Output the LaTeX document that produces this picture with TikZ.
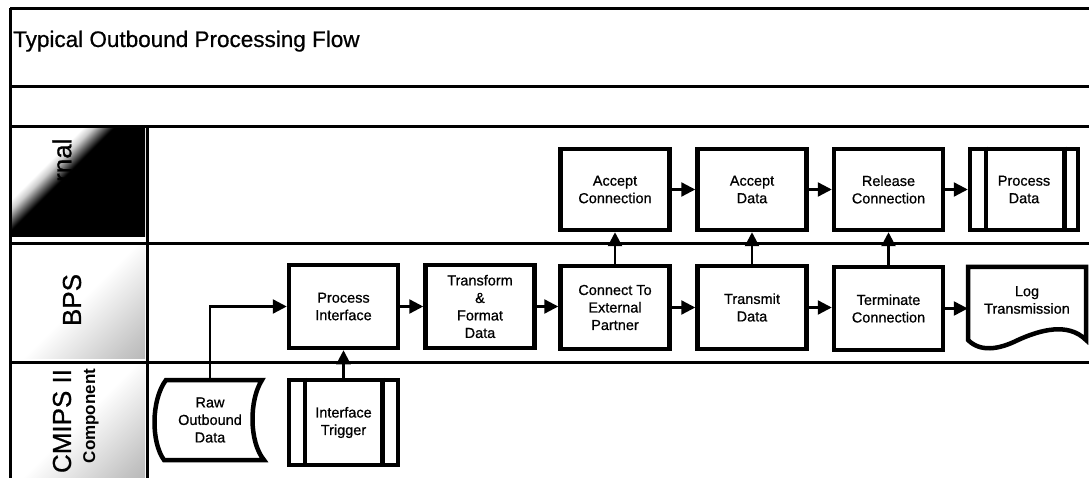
\documentclass[tikz,border=0pt]{standalone}
\usepackage{fontspec}
\setmainfont{Liberation Sans}
\newfontfamily\heavyfont[FakeBold=0.7]{Liberation Sans}
\usetikzlibrary{arrows.meta}
\pgfdeclarehorizontalshading{extshade}{100bp}{color(0bp)=(white); color(35bp)=(white); color(38bp)=(gray!40); color(44bp)=(black); color(100bp)=(black)}
\pgfdeclarehorizontalshading{lightshade}{100bp}{color(0bp)=(white); color(50bp)=(white); color(78bp)=(gray!45); color(100bp)=(gray!75)}
\begin{document}
\begin{tikzpicture}[x=1pt,y=-1pt,
  frame/.style={line width=3pt},
  boxtext/.style={align=center, font=\heavyfont\fontsize{14.5}{17.5}\selectfont},
  box/.style={boxtext, draw, line width=4.5pt, minimum width=109pt, minimum height=83pt, inner sep=2pt},
  plainbox/.style={boxtext, minimum width=110pt, minimum height=80pt, inner sep=2pt},
  shapeline/.style={line width=4.5pt},
  conn/.style={line width=2.4pt, -{Triangle[length=14pt,width=14pt]}},
  lanelabel/.style={rotate=90, font=\heavyfont\fontsize{26}{28}\selectfont},
]
\useasboundingbox (0,0) rectangle (1089,478);
% lane headers
\shade[shading=extshade, shading angle=-45] (12,129) rectangle (145,237);
\shade[shading=lightshade, shading angle=-45] (12,246) rectangle (145,358);
\shade[shading=lightshade, shading angle=-45] (12,364) rectangle (145,478);
\begin{scope}
  \clip (12,135) rectangle (145,237);
  \node[lanelabel, anchor=east] (lext) at (62,135) {External};
\end{scope}
\node[lanelabel] (lbps) at (72,300) {BPS};
\node[lanelabel] (lcmips) at (62,421) {CMIPS II};
\node[rotate=90, font=\bfseries\fontsize{17}{18}\selectfont] (lcomp) at (91,416) {Component};
% frame lines
\draw[frame] (10,9) -- (1089,9);
\draw[frame] (10,8) -- (10,478);
\draw[frame] (10,87) -- (1089,87);
\draw[frame] (10,127) -- (1089,127);
\draw[frame] (10,244) -- (1089,244);
\draw[frame] (10,362) -- (1089,362);
\draw[frame] (147,127) -- (147,478);
% title
\node[anchor=base west, font=\heavyfont\fontsize{22.5}{24}\selectfont, inner sep=0] (title) at (13,47) {Typical Outbound Processing Flow};
% External lane
\node[box, minimum height=81pt] (ac) at (615,189.5) {Accept\\Connection};
\node[box, minimum height=81pt] (ad) at (752,189.5) {Accept\\Data};
\node[box, minimum height=81pt] (rc) at (888.5,189.5) {Release\\Connection};
\node[box, minimum height=81pt, minimum width=108pt] (pd) at (1024,189.5) {Process\\Data};
\draw[shapeline] ([xshift=18pt]pd.north west) -- ([xshift=18pt]pd.south west);
\draw[shapeline] ([xshift=-16pt]pd.north east) -- ([xshift=-16pt]pd.south east);
% BPS lane
\node[box] (pi) at (343.5,306.5) {Process\\Interface};
\node[box] (tf) at (480,306.5) {Transform\\\&\\Format\\Data};
\node[box] (ce) at (615,307.5) {Connect To\\External\\Partner};
\node[box] (td) at (752,307.5) {Transmit\\Data};
\node[box] (tc) at (888.5,308.5) {Terminate\\Connection};
\node[plainbox, minimum width=118pt, minimum height=66pt] (log) at (1027,300) {Log\\Transmission};
\draw[shapeline] (968,267) -- (1086,267) -- (1086,340)
  .. controls (1068,322) and (1040,330) .. (1018,340)
  .. controls (998,350) and (980,352) .. (968,340) -- cycle;
% CMIPS lane
\node[plainbox, minimum width=100pt, minimum height=80pt] (raw) at (210,420) {Raw\\Outbound\\Data};
\draw[shapeline] (166,380) -- (262,380) .. controls (249,400) and (249,442) .. (264,460)
  -- (164,460) .. controls (151,442) and (151,400) .. (166,380) -- cycle;
\node[box, minimum width=109pt, minimum height=85pt] (it) at (343.5,422.5) {Interface\\Trigger};
\draw[shapeline] ([xshift=18pt]it.north west) -- ([xshift=18pt]it.south west);
\draw[shapeline] ([xshift=-18pt]it.north east) -- ([xshift=-18pt]it.south east);
% connectors
\draw[conn] (raw.north) |- (pi.west);
\draw[conn] (it.north) -- (pi.south);
\draw[conn] (pi.east) -- (tf.west);
\draw[conn] (tf.east) -- (tf.east -| ce.west);
\draw[conn] (ce.east) -- (td.west);
\draw[conn] (td.east) -- (td.east -| tc.west);
\draw[conn] (tc.east) -- (tc.east -| log.west);
\draw[conn] (ce.north) -- (ac.south);
\draw[conn] (td.north) -- (ad.south);
\draw[conn] (tc.north) -- (rc.south);
\draw[conn] (ac.east) -- (ad.west);
\draw[conn] (ad.east) -- (rc.west);
\draw[conn] (rc.east) -- (pd.west);
\end{tikzpicture}
\end{document}
